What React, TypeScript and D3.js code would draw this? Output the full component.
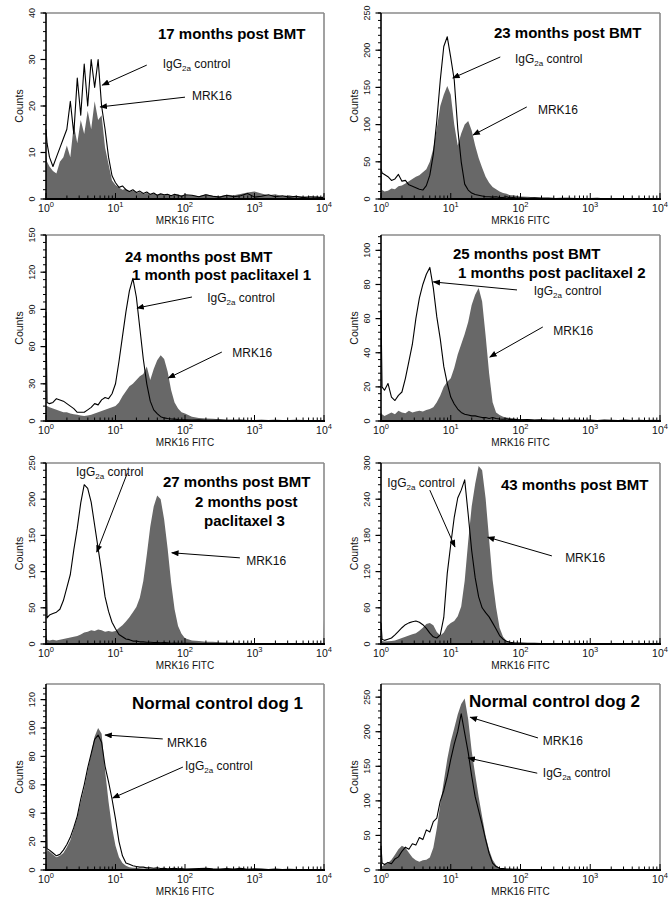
import React from 'react';
import * as d3 from 'd3';

// histogram channel positions, in decades of MRK16 FITC (10^0 .. 10^4)
const channels = [0, 0.015,
  0.05, 0.1, 0.15, 0.2, 0.25, 0.3, 0.35, 0.4, 0.45, 0.5,
  0.55, 0.6, 0.65, 0.7, 0.75, 0.8, 0.85, 0.9, 0.95, 1.0,
  1.05, 1.1, 1.15, 1.2, 1.25, 1.3, 1.35, 1.4, 1.45, 1.5,
  1.55, 1.6, 1.65, 1.7, 1.75, 1.8, 1.85, 1.9, 1.95, 2.0,
  2.1, 2.2, 2.3, 2.4, 2.5, 2.6, 2.7, 2.8, 2.9, 3.0, 3.1, 3.2, 3.3, 3.4, 3.5, 3.6, 3.7, 3.8, 3.9,
  3.985, 4.0]

// counts per channel, IgG2a control (line) and MRK16 (filled)
const igg17 = [15, 12,
  9, 7, 9, 11, 13, 15, 21, 14, 26, 18,
  29, 20, 30, 24, 30, 20, 15, 9, 5, 3.5,
  2.5, 2.8, 2, 1.6, 2, 1.4, 1.7, 1.2, 1.5, 1,
  1.3, 0.8, 1.1, 0.9, 1, 0.7, 1, 0.8, 0.6, 0.9,
  0.8, 0.5, 0.9, 0.6, 0.4, 0.8, 0.5, 0.7, 1.2, 0.4, 0.6, 0.9, 0.5, 0.7, 0.4, 0.6, 0.3, 0.5, 0.4,
  0.3, 1]
const mrk17 = [10, 8,
  7, 6, 5.5, 8, 9, 11.5, 9, 16, 12, 17,
  14, 19, 15, 21, 17, 18, 11, 7.5, 4, 3,
  2.5, 2, 2.2, 1.6, 1.8, 1.3, 1.5, 1.1, 1.3, 1,
  1.2, 0.9, 1, 0.8, 1.1, 0.7, 0.9, 1, 0.7, 0.8,
  0.8, 0.6, 1, 0.7, 0.6, 0.9, 0.8, 1.1, 1.4, 1.6, 1.2, 0.8, 1, 0.6, 0.8, 0.5, 0.6, 0.4, 0.5,
  0.4, 0.8]

const igg23 = [40, 35,
  33, 30, 25, 27, 33, 24, 25, 19, 17, 15,
  13, 12, 18, 32, 60, 105, 160, 205, 218, 190,
  160, 95, 50, 20, 12, 8, 6, 5, 4, 3,
  3, 2.5, 3, 2, 2, 3, 1.5, 2, 1, 1.5,
  1, 1.5, 0.8, 1, 0.5, 0.8, 1, 0.5, 0.7, 0.5, 0.8, 0.4, 0.6, 0.5, 0.4, 0.7, 0.3, 0.5, 0.4,
  0.5, 1]
const mrk23 = [150, 12,
  10, 11, 14, 13, 17, 18, 21, 24, 27, 30,
  32, 36, 40, 50, 68, 95, 125, 140, 152, 140,
  100, 72, 88, 100, 105, 92, 72, 55, 42, 30,
  22, 16, 13, 10, 8, 7, 5, 5, 4, 3.5,
  3, 2.5, 2, 2, 1.5, 1.5, 1.2, 1, 1.2, 0.8, 1, 0.8, 0.7, 0.9, 0.6, 0.8, 0.5, 0.7, 0.6,
  1, 13]

const igg24 = [88, 15,
  14, 15, 18, 17, 16, 14, 12, 10, 7, 7,
  7, 9, 11, 14, 13, 17, 19, 18, 22, 30,
  48, 68, 88, 105, 115, 100, 75, 50, 30, 16,
  9, 6, 3.5, 2.5, 2, 1.6, 1.5, 1.2, 1, 1,
  0.8, 1, 0.6, 0.5, 0.8, 0.4, 0.6, 0.5, 0.4, 0.3, 0.5, 0.4, 0.6, 0.3, 0.4, 0.5, 0.3, 0.4, 0.3,
  0.3, 1]
const mrk24 = [12, 12,
  11, 10, 9, 8, 7, 7, 6, 5.5, 5, 4.5,
  4, 4.5, 5, 6, 7, 8, 9, 10, 11, 12,
  15, 20, 24, 28, 30, 33, 36, 38, 44, 33,
  42, 49, 53, 50, 40, 25, 15, 10, 7, 6,
  3.5, 2.5, 2, 1.8, 1.5, 1.2, 1, 1.2, 0.8, 0.7, 0.9, 0.6, 0.8, 0.5, 0.7, 0.6, 0.4, 0.6, 0.5,
  0.5, 1]

const igg25 = [65, 20,
  18, 22, 14, 12, 15, 17, 25, 35, 45, 60,
  72, 80, 86, 90, 78, 61, 48, 32, 22, 14,
  10, 7, 5, 4, 3.5, 3, 3, 2.5, 2, 2,
  1.5, 2, 1.5, 1.2, 1, 1.3, 0.8, 1, 0.8, 0.7,
  0.8, 0.6, 0.7, 0.5, 0.6, 0.4, 0.5, 0.6, 0.4, 0.5, 0.3, 0.5, 0.4, 0.3, 0.5, 0.3, 0.4, 0.3, 0.4,
  0.3, 0.8]
const mrk25 = [5, 4,
  3, 4, 5, 4, 6, 5, 4.5, 6, 5, 5.5,
  6, 5.5, 6.5, 7, 8, 11, 15, 20, 23, 25,
  31, 39, 45, 51, 58, 68, 74, 78, 70, 50,
  28, 11, 5, 3.5, 2.5, 2, 1.8, 1.5, 1.2, 1,
  1, 0.8, 0.9, 0.6, 0.7, 0.5, 0.6, 0.8, 0.5, 0.6, 0.4, 0.6, 0.5, 0.4, 0.6, 0.3, 0.5, 0.4, 0.3,
  0.4, 0.6]

const igg27 = [145, 36,
  40, 42, 44, 48, 60, 78, 96, 130, 160, 195,
  220, 215, 196, 164, 132, 100, 65, 45, 30, 21,
  13, 10, 7, 6, 4, 4, 3, 3, 2.5, 2.5,
  2, 2, 1.5, 2, 1.5, 1, 1.2, 1, 1, 0.8,
  0.8, 0.6, 0.7, 0.5, 0.6, 0.5, 0.4, 0.6, 0.5, 0.4, 0.5, 0.3, 0.4, 0.5, 0.3, 0.4, 0.3, 0.4, 0.3,
  0.3, 0.5]
const mrk27 = [30, 6,
  5, 6, 5, 6, 7, 8, 9, 10, 11, 13,
  16, 17, 19, 18, 20, 19, 17, 18, 17, 18,
  22, 26, 31, 37, 44, 51, 64, 87, 123, 162,
  190, 205, 200, 172, 132, 85, 48, 25, 14, 8,
  5, 4, 3, 3, 2.5, 2, 2, 1.5, 1.8, 1.2, 1.5, 1, 1.2, 0.8, 1, 0.8, 0.6, 0.8, 0.6,
  0.5, 33]

const igg43 = [35, 8,
  6, 8, 10, 15, 21, 27, 32, 35, 37, 38,
  36, 32, 26, 18, 12, 10, 15, 44, 117, 165,
  210, 242, 255, 272, 215, 155, 110, 78, 60, 52,
  45, 35, 25, 14, 8, 4.5, 3, 2, 1.5, 1.5,
  1, 1.2, 0.8, 0.6, 0.9, 0.5, 0.7, 0.5, 0.4, 0.6, 0.4, 0.5, 0.3, 0.5, 0.4, 0.3, 0.5, 0.3, 0.4,
  0.3, 4]
const mrk43 = [10, 5,
  4, 4.5, 5, 6, 8, 10, 12, 14, 16, 18,
  22, 27, 33, 35, 31, 20, 14, 19, 30, 35,
  38, 46, 62, 105, 170, 228, 265, 295, 288, 241,
  173, 106, 61, 27, 12, 5, 3, 2, 1.5, 1.2,
  1, 0.8, 1, 0.6, 0.8, 0.5, 0.6, 0.8, 0.4, 0.6, 0.5, 0.3, 0.5, 0.4, 0.3, 0.5, 0.3, 0.4, 0.3,
  0.3, 8]

const iggDog1 = [72, 15,
  14, 12, 10, 11, 14, 18, 23, 30, 38, 50,
  60, 72, 82, 92, 95, 90, 73, 62, 50, 36,
  20, 10, 5, 4, 3, 2.5, 2, 2, 1.5, 1.5,
  1.2, 1.5, 1, 1.2, 0.8, 1, 1.2, 0.8, 1, 0.7,
  0.8, 1, 1.2, 0.8, 0.6, 1, 0.7, 1.2, 0.5, 0.8, 0.6, 0.4, 0.6, 0.3, 0.5, 0.4, 0.3, 0.4, 0.3,
  0.3, 0.5]
const mrkDog1 = [10, 14,
  13, 11, 9, 10, 12, 16, 21, 29, 37, 48,
  58, 70, 82, 94, 100, 96, 70, 48, 30, 17,
  9, 5, 3, 2, 1.5, 1.5, 1.2, 1, 1, 0.8,
  0.8, 0.7, 0.8, 0.6, 0.7, 0.5, 0.6, 0.5, 0.6, 0.4,
  0.4, 0.5, 0.4, 0.3, 0.4, 0.3, 0.4, 0.3, 0.3, 0.2, 0.3, 0.2, 0.3, 0.2, 0.2, 0.3, 0.2, 0.2, 0.2,
  0.2, 0.3]

const iggDog2 = [35, 10,
  8, 11, 9, 16, 19, 27, 33, 30, 38, 36,
  47, 44, 58, 55, 70, 75, 100, 115, 135, 160,
  182, 200, 226, 198, 170, 136, 106, 86, 66, 44,
  24, 10, 5, 2.5, 2, 1.5, 1.2, 1, 1, 0.8,
  0.8, 0.6, 0.7, 0.5, 0.6, 0.4, 0.5, 0.4, 0.3, 0.4, 0.3, 0.4, 0.3, 0.3, 0.4, 0.3, 0.3, 0.2, 0.3,
  0.3, 0.5]
const mrkDog2 = [30, 5,
  8, 10, 15, 22, 30, 35, 32, 25, 18, 14,
  12, 14, 15, 18, 32, 60, 95, 128, 160, 186,
  205, 225, 240, 248, 218, 172, 138, 106, 77, 49,
  29, 15, 7, 3, 2, 1.5, 1.2, 1, 0.8, 0.8,
  0.6, 0.8, 0.5, 0.6, 0.4, 0.5, 0.4, 0.3, 0.4, 0.3, 0.3, 0.4, 0.2, 0.3, 0.3, 0.2, 0.3, 0.2, 0.3,
  0.2, 0.3]

const decades = [0, 1, 2, 3, 4]

const FONT = '"Liberation Sans", Arial, Helvetica, sans-serif'
const GRAY = '#686868'

const LEFT = {x0: 46, w: 278}
const RIGHT = {x0: 381, w: 279}
const ROWS = [{top: 13, h: 186}, {top: 235, h: 186}, {top: 463, h: 181}, {top: 684, h: 186}]

// annotation anchors are given in data units: [decade, count]
const panels = [
  {col: LEFT, row: ROWS[0], yMax: 40, yStep: 10, igg: igg17, mrk: mrk17, titleSize: 15,
    title: [{text: '17 months post BMT', dx: 112, dy: 26}],
    notes: [
      {kind: 'igg', at: [1.68, 28.2], from: [1.45, 28.8], to: [0.81, 24.5]},
      {kind: 'mrk', at: [2.1, 21.3], from: [2.0, 21.9], to: [0.78, 19.8]},
    ]},
  {col: RIGHT, row: ROWS[0], yMax: 250, yStep: 50, igg: igg23, mrk: mrk23, titleSize: 15,
    title: [{text: '23 months post BMT', dx: 113, dy: 25}],
    notes: [
      {kind: 'igg', at: [1.92, 182.8], from: [1.71, 190.9], to: [1.03, 162.6]},
      {kind: 'mrk', at: [2.25, 114.2], from: [2.09, 123.7], to: [1.32, 86]},
    ]},
  {col: LEFT, row: ROWS[1], yMax: 150, yStep: 30, igg: igg24, mrk: mrk24, titleSize: 15,
    title: [{text: '24 months post BMT', dx: 79, dy: 27}, {text: '1 month post paclitaxel 1', dx: 86, dy: 45}],
    notes: [
      {kind: 'igg', at: [2.32, 96], from: [2.1, 100], to: [1.31, 91.1]},
      {kind: 'mrk', at: [2.68, 51.6], from: [2.53, 55.6], to: [1.76, 34.7]},
    ]},
  {col: RIGHT, row: ROWS[1], yMax: 109, yStep: 20, igg: igg25, mrk: mrk25, titleSize: 15,
    title: [{text: '25 months post BMT', dx: 72, dy: 24}, {text: '1 months post paclitaxel 2', dx: 77, dy: 43}],
    notes: [
      {kind: 'igg', at: [2.19, 73.9], from: [1.95, 76.8], to: [0.75, 81.5]},
      {kind: 'mrk', at: [2.47, 50.4], from: [2.32, 55.1], to: [1.56, 37.5]},
    ]},
  {col: LEFT, row: ROWS[2], yMax: 250, yStep: 50, igg: igg27, mrk: mrk27, titleSize: 15,
    title: [{text: '27 months post BMT', dx: 117, dy: 24}, {text: '2 months post', dx: 149, dy: 44},
      {text: 'paclitaxel 3', dx: 158, dy: 63}],
    notes: [
      {kind: 'igg', at: [0.43, 232], from: [1.17, 236], to: [0.73, 127]},
      {kind: 'mrk', at: [2.88, 109], from: [2.79, 119], to: [1.81, 126]},
    ]},
  {col: RIGHT, row: ROWS[2], yMax: 300, yStep: 60, igg: igg43, mrk: mrk43, titleSize: 15,
    title: [{text: '43 months post BMT', dx: 120, dy: 27}],
    notes: [
      {kind: 'igg', at: [0.09, 260], from: [0.7, 255], to: [1.06, 161]},
      {kind: 'mrk', at: [2.64, 136], from: [2.45, 146], to: [1.53, 177]},
    ]},
  {col: LEFT, row: ROWS[3], yMax: 131, yStep: 20, igg: iggDog1, mrk: mrkDog1, titleSize: 17,
    title: [{text: 'Normal control dog 1', dx: 86, dy: 25}],
    notes: [
      {kind: 'mrk', at: [1.74, 86.6], from: [1.68, 92.3], to: [0.85, 95.1]},
      {kind: 'igg', at: [2.0, 70.4], from: [1.97, 72.5], to: [0.96, 50.7]},
    ]},
  {col: RIGHT, row: ROWS[3], yMax: 269, yStep: 50, igg: iggDog2, mrk: mrkDog2, titleSize: 17,
    title: [{text: 'Normal control dog 2', dx: 88, dy: 23}],
    notes: [
      {kind: 'mrk', at: [2.32, 181], from: [2.25, 191], to: [1.28, 221]},
      {kind: 'igg', at: [2.32, 134.6], from: [2.24, 140], to: [1.25, 162]},
    ]},
]

const Panel = ({p}) => {
  const {x0, w} = p.col
  const {top, h} = p.row
  const bottom = top + h

  const x = d3.scaleLog().domain([1, 1e4]).range([x0, x0 + w])
  const y = d3.scaleLinear().domain([0, p.yMax]).range([bottom, top])
  const dx = c => x(Math.pow(10, c))

  const toPoints = vals => channels.map((c, i) => ({c, v: Math.min(vals[i], p.yMax)}))

  const areaGen = d3.area()
    .x(d => dx(d.c))
    .y0(bottom)
    .y1(d => y(d.v))
  const lineGen = d3.line()
    .x(d => dx(d.c))
    .y(d => y(d.v))

  const xTicks = x.ticks()
  const yMajor = d3.range(0, p.yMax + 0.001, p.yStep)
  const yMinor = d3.range(0, p.yMax + 0.001, p.yStep / 5)

  return (
    <g>
      <path d={areaGen(toPoints(p.mrk))} fill={GRAY} />
      <path d={lineGen(toPoints(p.igg))} fill='none' stroke='#000' strokeWidth={1.1} strokeLinejoin='round' />

      {/* frame */}
      <line x1={x0} x2={x0 + w} y1={top} y2={top} stroke='#8a8a8a' strokeWidth={1.6} />
      <line x1={x0 + w} x2={x0 + w} y1={top} y2={bottom} stroke='#8a8a8a' strokeWidth={1.6} />
      <line x1={x0} x2={x0} y1={top} y2={bottom} stroke='#000' strokeWidth={1.6} />
      <line x1={x0 - 1} x2={x0 + w + 1} y1={bottom} y2={bottom} stroke='#000' strokeWidth={2} />

      {/* x axis ticks, pointing inward */}
      {xTicks.map((t, i) => {
        const major = Math.abs(Math.log10(t) - Math.round(Math.log10(t))) < 1e-9
        return <line key={i} x1={x(t)} x2={x(t)} y1={bottom} y2={bottom - (major ? 6 : 3.5)}
          stroke='#000' strokeWidth={1} />
      })}
      {decades.map(k => (
        <text key={k} x={x(Math.pow(10, k))} y={bottom + 13} textAnchor='middle'
          fontFamily={FONT} fontSize={10.5} fill='#111'>
          10<tspan fontSize={7.5} dy={-5}>{k}</tspan>
        </text>
      ))}
      <text x={x0 + w / 2} y={bottom + 25} textAnchor='middle' fontFamily={FONT} fontSize={10} fill='#111'>
        MRK16 FITC
      </text>

      {/* y axis */}
      {yMinor.map((t, i) => (
        <line key={i} x1={x0} x2={x0 - 3} y1={y(t)} y2={y(t)} stroke='#000' strokeWidth={1} />
      ))}
      {yMajor.map((t, i) => (
        <g key={i}>
          <line x1={x0} x2={x0 - 5.5} y1={y(t)} y2={y(t)} stroke='#000' strokeWidth={1.2} />
          <text transform={`translate(${x0 - 11},${y(t)}) rotate(-90)`} textAnchor='middle'
            fontFamily={FONT} fontSize={9} fill='#111'>{t}</text>
        </g>
      ))}
      <text transform={`translate(${x0 - 23},${top + h / 2}) rotate(-90)`} textAnchor='middle'
        fontFamily={FONT} fontSize={10.5} fill='#111'>Counts</text>

      {/* title */}
      {p.title.map((t, i) => (
        <text key={i} x={x0 + t.dx} y={top + t.dy} fontFamily={FONT} fontWeight='bold'
          fontSize={p.titleSize} fill='#000'>{t.text}</text>
      ))}

      {/* annotations */}
      {p.notes.map((n, i) => (
        <g key={i}>
          <line x1={dx(n.from[0])} y1={y(n.from[1])} x2={dx(n.to[0])} y2={y(n.to[1])}
            stroke='#000' strokeWidth={1} markerEnd='url(#arrowHead)' />
          {n.kind === 'igg' ? (
            <text x={dx(n.at[0])} y={y(n.at[1])} fontFamily={FONT} fontSize={12} fill='#111'>
              IgG<tspan fontSize={8} dy={3}>2a</tspan><tspan dy={-3}> control</tspan>
            </text>
          ) : (
            <text x={dx(n.at[0])} y={y(n.at[1])} fontFamily={FONT} fontSize={12} fill='#111'>MRK16</text>
          )}
        </g>
      ))}
    </g>
  )
}

const App = () => {
  return (
    <svg width={671} height={902} style={{position: 'absolute', left: 0, top: 0, display: 'block', background: '#fff'}}>
      <defs>
        <marker id='arrowHead' viewBox='0 0 10 8' refX={9} refY={4} markerWidth={8} markerHeight={6}
          markerUnits='userSpaceOnUse' orient='auto'>
          <path d='M0,0 L10,4 L0,8 z' fill='#000' />
        </marker>
      </defs>
      <rect x={0} y={0} width={671} height={902} fill='#fff' />
      {panels.map((p, i) => <Panel key={i} p={p} />)}
    </svg>
  )
}

export default App
